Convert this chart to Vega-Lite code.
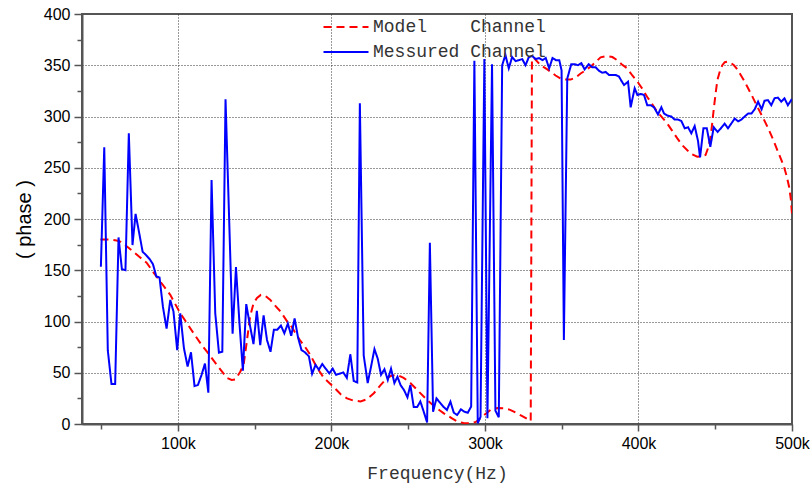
{
  "$schema": "https://vega.github.io/schema/vega-lite/v6.json",
  "width": 710,
  "height": 410,
  "autosize": {"type": "none"},
  "padding": {"left": 82, "top": 14, "right": 20, "bottom": 65},
  "background": "#ffffff",
  "config": {"view": {"stroke": "#555555", "strokeWidth": 2}},
  "datasets": {
    "model": [
      {"f":49500,"p":180},{"f":55000,"p":180},{"f":60000,"p":179},{"f":62400,"p":178},{"f":67000,"p":173},{"f":71000,"p":168},{"f":75000,"p":163},{"f":79800,"p":157},{"f":84000,"p":148},{"f":88500,"p":139},{"f":95000,"p":126},{"f":101500,"p":108},{"f":106000,"p":98},{"f":110200,"p":88.5},{"f":115000,"p":78},{"f":118900,"p":70.5},{"f":125400,"p":57.6},{"f":131900,"p":45},{"f":135000,"p":43},{"f":137400,"p":43.5},{"f":140600,"p":51},{"f":142800,"p":58},{"f":145000,"p":82},{"f":147000,"p":105},{"f":149300,"p":118},{"f":151500,"p":123},{"f":154000,"p":126},{"f":157000,"p":125},{"f":160200,"p":121},{"f":163000,"p":116},{"f":166700,"p":110},{"f":171200,"p":100},{"f":173200,"p":97},{"f":176000,"p":90},{"f":179800,"p":81},{"f":182000,"p":77},{"f":186000,"p":68},{"f":190600,"p":55},{"f":195000,"p":45},{"f":199300,"p":39},{"f":201500,"p":36},{"f":206000,"p":29},{"f":210100,"p":25},{"f":214000,"p":23},{"f":218900,"p":22},{"f":223000,"p":24},{"f":227600,"p":30},{"f":232000,"p":38},{"f":236300,"p":45},{"f":239000,"p":47},{"f":242700,"p":48},{"f":247000,"p":45},{"f":251400,"p":40},{"f":256000,"p":33},{"f":262300,"p":23.4},{"f":268000,"p":16},{"f":273200,"p":10.4},{"f":278000,"p":6},{"f":281900,"p":2.5},{"f":286000,"p":1},{"f":290500,"p":0.7},{"f":294000,"p":2},{"f":297100,"p":5.6},{"f":300500,"p":10},{"f":303600,"p":13.7},{"f":308000,"p":15.5},{"f":312400,"p":15.3},{"f":316000,"p":14},{"f":318800,"p":12},{"f":324000,"p":8},{"f":328600,"p":4},{"f":329800,"p":3},{"f":330600,"p":357},{"f":332000,"p":357},{"f":336200,"p":350},{"f":340600,"p":346},{"f":342700,"p":343.7},{"f":346000,"p":340},{"f":349200,"p":337},{"f":352000,"p":336},{"f":355800,"p":336},{"f":359000,"p":338},{"f":362300,"p":342},{"f":365500,"p":345},{"f":368800,"p":348.6},{"f":372000,"p":353},{"f":375300,"p":357.7},{"f":379600,"p":359},{"f":383000,"p":358},{"f":386100,"p":355},{"f":389000,"p":351},{"f":392600,"p":347},{"f":396000,"p":340},{"f":399300,"p":334},{"f":402500,"p":327},{"f":405700,"p":319},{"f":409000,"p":312},{"f":412200,"p":304.7},{"f":415500,"p":299},{"f":418800,"p":293},{"f":422000,"p":286},{"f":425300,"p":278.7},{"f":428500,"p":272},{"f":431800,"p":267},{"f":435000,"p":263},{"f":438300,"p":260.8},{"f":441000,"p":261},{"f":443700,"p":262.4},{"f":445500,"p":270},{"f":447000,"p":280},{"f":448000,"p":293},{"f":449200,"p":309.6},{"f":450300,"p":323},{"f":451400,"p":335.6},{"f":453000,"p":344},{"f":454600,"p":350},{"f":456200,"p":353},{"f":457900,"p":353.5},{"f":460000,"p":352.5},{"f":462200,"p":350},{"f":464400,"p":346},{"f":466600,"p":340.5},{"f":468800,"p":335},{"f":470900,"p":329},{"f":474000,"p":320},{"f":477400,"p":309.6},{"f":480700,"p":300},{"f":484000,"p":290},{"f":487300,"p":279},{"f":490500,"p":267},{"f":492700,"p":259},{"f":494800,"p":251},{"f":496500,"p":242},{"f":498100,"p":231.5},{"f":499200,"p":220},{"f":500000,"p":205}
    ],
    "measured": [
      {"f":49800,"p":153.5},{"f":52000,"p":270},{"f":54300,"p":72},{"f":56700,"p":39},{"f":59100,"p":39},{"f":61300,"p":182},{"f":63500,"p":151},{"f":65800,"p":150},{"f":68000,"p":283.6},{"f":70400,"p":174.6},{"f":72400,"p":205},{"f":74600,"p":187.6},{"f":77000,"p":168},{"f":79100,"p":165},{"f":81500,"p":161},{"f":83700,"p":156},{"f":85900,"p":144},{"f":88000,"p":143},{"f":90200,"p":114.5},{"f":92600,"p":93},{"f":95000,"p":121},{"f":97100,"p":109.6},{"f":99500,"p":72},{"f":101500,"p":108},{"f":103900,"p":74},{"f":106300,"p":56},{"f":108500,"p":70},{"f":110800,"p":37},{"f":113000,"p":38},{"f":115400,"p":48},{"f":117600,"p":59},{"f":119800,"p":30.5},{"f":121900,"p":238},{"f":124300,"p":108},{"f":126700,"p":69.6},{"f":128900,"p":70.5},{"f":131000,"p":316.8},{"f":135600,"p":88},{"f":137800,"p":153},{"f":140000,"p":100},{"f":142300,"p":52},{"f":144500,"p":117},{"f":146800,"p":97},{"f":149200,"p":78},{"f":151400,"p":110.5},{"f":153600,"p":77},{"f":155800,"p":106},{"f":158000,"p":82},{"f":160300,"p":70.5},{"f":162500,"p":92},{"f":164700,"p":92},{"f":167100,"p":96},{"f":169300,"p":88.5},{"f":171600,"p":98},{"f":173800,"p":86},{"f":176000,"p":103},{"f":178200,"p":84.5},{"f":180500,"p":72},{"f":182700,"p":70},{"f":185300,"p":66},{"f":187400,"p":49},{"f":189600,"p":57.6},{"f":191800,"p":53},{"f":194000,"p":58.5},{"f":196200,"p":54},{"f":198600,"p":49.5},{"f":200800,"p":54},{"f":203000,"p":48},{"f":205200,"p":49},{"f":207700,"p":50.3},{"f":210000,"p":45},{"f":212300,"p":68},{"f":214500,"p":42},{"f":216800,"p":40.5},{"f":218500,"p":313},{"f":221000,"p":67},{"f":223600,"p":40},{"f":225800,"p":56},{"f":228000,"p":73},{"f":230100,"p":64},{"f":232300,"p":48},{"f":234500,"p":53.4},{"f":236700,"p":43},{"f":238800,"p":54},{"f":241000,"p":40},{"f":243000,"p":46},{"f":245000,"p":38},{"f":247300,"p":33},{"f":249500,"p":26},{"f":251400,"p":38},{"f":253600,"p":16.5},{"f":255800,"p":16.5},{"f":257900,"p":22},{"f":260100,"p":12},{"f":262300,"p":1.5},{"f":264100,"p":176.8},{"f":266200,"p":12},{"f":268400,"p":25},{"f":270600,"p":21},{"f":272800,"p":17},{"f":275200,"p":13.7},{"f":277500,"p":21.8},{"f":279700,"p":11},{"f":281900,"p":8.8},{"f":284300,"p":14.3},{"f":286600,"p":12},{"f":288800,"p":11},{"f":291000,"p":17},{"f":293100,"p":354.5},{"f":295300,"p":0.7},{"f":297100,"p":7},{"f":299600,"p":356},{"f":301600,"p":5.6},{"f":304600,"p":351},{"f":306800,"p":13},{"f":309000,"p":6.5},{"f":311200,"p":350},{"f":313300,"p":360},{"f":315500,"p":347},{"f":317700,"p":358},{"f":320000,"p":354},{"f":322100,"p":355},{"f":324300,"p":356},{"f":326400,"p":350},{"f":328600,"p":358},{"f":330800,"p":359},{"f":333000,"p":356},{"f":335200,"p":357},{"f":337400,"p":355},{"f":339600,"p":357},{"f":341800,"p":347},{"f":344000,"p":357},{"f":346200,"p":355},{"f":348400,"p":355},{"f":349900,"p":345},{"f":351400,"p":82},{"f":353600,"p":337},{"f":356200,"p":351},{"f":358400,"p":351},{"f":360600,"p":350},{"f":362800,"p":352},{"f":364900,"p":346},{"f":367600,"p":351},{"f":369900,"p":348},{"f":372100,"p":348},{"f":374200,"p":344.7},{"f":376400,"p":342.7},{"f":378600,"p":343.5},{"f":380800,"p":340.5},{"f":383000,"p":340.5},{"f":385100,"p":340.5},{"f":387300,"p":339},{"f":388800,"p":335},{"f":390600,"p":330.7},{"f":393200,"p":334},{"f":394900,"p":309},{"f":397500,"p":327.5},{"f":399300,"p":321},{"f":401500,"p":322},{"f":403600,"p":321},{"f":405700,"p":311},{"f":407900,"p":311},{"f":410100,"p":309},{"f":412700,"p":302},{"f":414900,"p":309},{"f":416600,"p":303},{"f":418800,"p":301},{"f":421400,"p":300},{"f":423500,"p":297},{"f":425700,"p":297},{"f":427900,"p":295.7},{"f":430100,"p":288.5},{"f":432300,"p":289.5},{"f":434400,"p":283.6},{"f":436600,"p":290.7},{"f":438800,"p":276},{"f":440100,"p":260},{"f":442300,"p":288.5},{"f":444500,"p":288.5},{"f":446800,"p":270.5},{"f":449000,"p":289.5},{"f":451600,"p":285},{"f":453700,"p":288.5},{"f":456100,"p":293},{"f":458300,"p":288.5},{"f":460400,"p":293},{"f":462700,"p":298},{"f":464900,"p":295.3},{"f":467000,"p":297},{"f":469200,"p":300},{"f":471500,"p":303},{"f":473600,"p":303},{"f":475700,"p":307},{"f":477900,"p":314.5},{"f":480200,"p":307},{"f":482100,"p":315.4},{"f":484300,"p":316},{"f":486500,"p":311},{"f":488600,"p":317.7},{"f":490800,"p":318.5},{"f":493000,"p":314.5},{"f":495100,"p":317.7},{"f":497300,"p":311},{"f":499500,"p":316},{"f":500000,"p":315}
    ]
  },
  "layer": [
    {
      "data": {"name": "model"},
      "transform": [{"calculate": "'Model Channel'", "as": "s"}],
      "mark": {"type": "line", "strokeWidth": 2, "clip": true},
      "encoding": {
        "x": {"field": "f", "type": "quantitative", "scale": {"domain": [37500, 500000], "nice": false, "zero": false},
          "axis": {"orient": "bottom", "values": [50000,100000,150000,200000,250000,300000,350000,400000,450000,500000],
            "labelExpr": "datum.value % 100000 === 0 ? (datum.value/1000) + 'k' : ''",
            "tickSize": {"condition": {"test": "datum.value % 100000 === 0", "value": 7}, "value": 5},
            "grid": true, "gridDash": [1, 2], "gridColor": "#333333", "gridWidth": 1,
            "gridOpacity": {"condition": {"test": "datum.value % 100000 === 0 && datum.value < 500000", "value": 1}, "value": 0},
            "domainColor": "#555555", "domainWidth": 2, "tickColor": "#555555", "tickWidth": 1.5,
            "labelFont": "Liberation Sans", "labelFontSize": 16, "labelColor": "#000000", "labelPadding": 4, "labelFlush": false,
            "title": "Frequency(Hz)", "titleFont": "Liberation Mono", "titleFontSize": 18, "titleFontWeight": "normal", "titleColor": "#333333", "titlePadding": 13}},
        "y": {"field": "p", "type": "quantitative", "scale": {"domain": [0, 400], "nice": false},
          "axis": {"orient": "left", "values": [0,25,50,75,100,125,150,175,200,225,250,275,300,325,350,375,400],
            "labelExpr": "datum.value % 50 === 0 ? datum.label : ''",
            "tickSize": {"condition": {"test": "datum.value % 50 === 0", "value": 8}, "value": 5},
            "grid": true, "gridDash": [1, 2], "gridColor": "#333333", "gridWidth": 1,
            "gridOpacity": {"condition": {"test": "datum.value % 50 === 0 && datum.value > 0 && datum.value < 400", "value": 1}, "value": 0},
            "domainColor": "#555555", "domainWidth": 2, "tickColor": "#555555", "tickWidth": 1.5,
            "labelFont": "Liberation Sans", "labelFontSize": 16, "labelColor": "#000000", "labelPadding": 4, "labelFlush": false,
            "title": "( phase )", "titleFont": "Liberation Sans", "titleFontSize": 20, "titleFontWeight": "normal", "titleColor": "#000000", "titlePadding": 9}},
        "color": {"field": "s", "type": "nominal",
          "scale": {"domain": ["Model Channel", "Messured Channel"], "range": ["#ff0000", "#0000ff"]},
          "legend": {"orient": "none", "legendX": 248, "legendY": -3, "title": null, "labelFont": "Liberation Mono", "labelFontSize": 18, "labelColor": "#333333",
            "symbolType": "M-1.5,0H1.5", "symbolSize": 900, "symbolStrokeWidth": 2, "labelLimit": 400, "labelOffset": 11, "rowPadding": 0,
            "labelExpr": "datum.label == 'Model Channel' ? 'Model\u00a0\u00a0\u00a0\u00a0Channel' : 'Messured\u00a0Channel'"}},
        "strokeDash": {"field": "s", "type": "nominal",
          "scale": {"domain": ["Model Channel", "Messured Channel"], "range": [[8, 5], [1, 0]]},
          "legend": {"orient": "none", "legendX": 248, "legendY": -3, "title": null, "labelFont": "Liberation Mono", "labelFontSize": 18, "labelColor": "#333333",
            "symbolType": "M-1.5,0H1.5", "symbolSize": 900, "symbolStrokeWidth": 2, "labelLimit": 400, "labelOffset": 11, "rowPadding": 0,
            "labelExpr": "datum.label == 'Model Channel' ? 'Model\u00a0\u00a0\u00a0\u00a0Channel' : 'Messured\u00a0Channel'"}}
      }
    },
    {
      "data": {"name": "measured"},
      "transform": [{"calculate": "'Messured Channel'", "as": "s"}],
      "mark": {"type": "line", "strokeWidth": 2, "clip": true},
      "encoding": {
        "x": {"field": "f", "type": "quantitative", "axis": null},
        "y": {"field": "p", "type": "quantitative", "axis": null},
        "color": {"field": "s", "type": "nominal"},
        "strokeDash": {"field": "s", "type": "nominal"}
      }
    },
    {
      "mark": {"type": "rule", "color": "#555555", "strokeWidth": 2},
      "encoding": {"y": {"datum": 400, "type": "quantitative", "axis": null}}
    },
    {
      "mark": {"type": "rule", "color": "#555555", "strokeWidth": 2},
      "encoding": {"x": {"datum": 500000, "type": "quantitative", "axis": null}}
    }
  ],
  "resolve": {"axis": {"x": "independent", "y": "independent"}}
}
